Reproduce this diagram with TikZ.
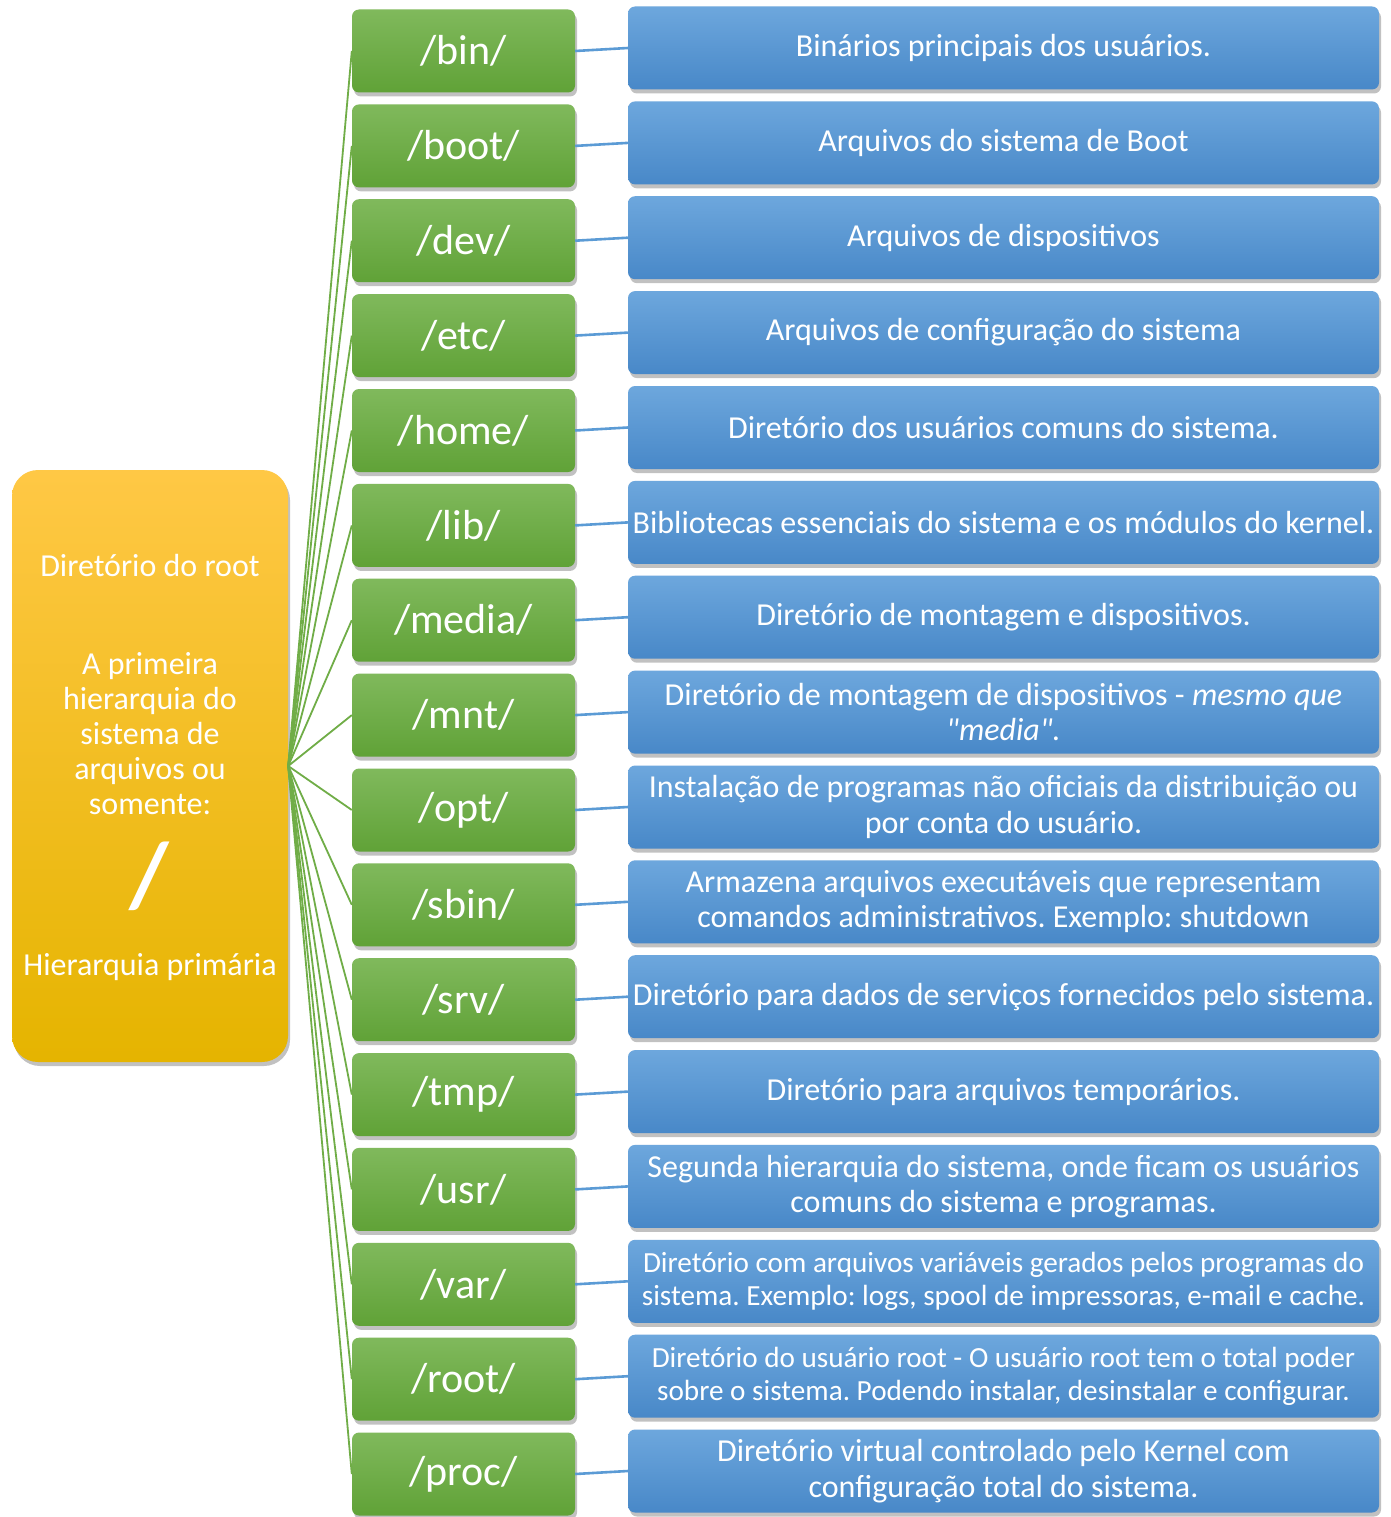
\documentclass[tikz,border=0pt]{standalone}
\usepackage{fontspec}
\setmainfont{Carlito}[Ligatures=TeXOff]
\usetikzlibrary{shadows}
\frenchspacing
\definecolor{gtop}{HTML}{80B95C}
\definecolor{gbot}{HTML}{60A237}
\definecolor{btop}{HTML}{6DA7DD}
\definecolor{bbot}{HTML}{4888C8}
\definecolor{rtop}{HTML}{FFC845}
\definecolor{rmid}{HTML}{FCC200}
\definecolor{rbot}{HTML}{E5B400}
\definecolor{gline}{HTML}{70AD47}
\definecolor{bline}{HTML}{5B9BD5}
\tikzset{
  shad/.style={drop shadow={shadow xshift=2pt,shadow yshift=-4pt,opacity=0.3,fill=black!80}},
  dirbox/.style={shad,rounded corners=7pt,minimum width=223pt,minimum height=83pt,inner sep=0pt,
    top color=gtop,bottom color=gbot,text=white,font=\fontsize{42}{46}\selectfont},
  descbox/.style={shad,rounded corners=7pt,minimum width=751pt,minimum height=83pt,inner sep=0pt,
    top color=btop,bottom color=bbot,text=white,align=center,font=\fontsize{32}{35.5}\selectfont},
  smalldesc/.style={font=\fontsize{29.2}{33}\selectfont},
  rootbox/.style={shad,rounded corners=26pt,minimum width=276pt,minimum height=592pt,inner sep=0pt,
    top color=rtop,middle color=rmid,bottom color=rbot},
  roottext/.style={text=white,align=center,font=\fontsize{32}{35}\selectfont,inner sep=0pt},
  rootline/.style={draw=gline,line width=1.8pt},
  descline/.style={draw=bline,line width=2.6pt},
}
\begin{document}
\begin{tikzpicture}[x=1pt,y=-1pt]
\useasboundingbox[fill=white] (0,0) rectangle (1391,1517);
% root
\node[rootbox] (root) at (150,766) {};
\node[roottext] (rt1) at (150,566) {Diretório do root};
\node[roottext] (rt2) at (150,734) {A primeira\\hierarquia do\\sistema de\\arquivos ou\\somente:};
\node[roottext,font=\fontsize{92}{92}\selectfont\bfseries] (rt3) at (149,876) {/};
\node[roottext] (rt4) at (150,967) {Hierarquia primária};
% directory boxes
\node[dirbox] (g1)  at (463.5,51)     {/bin/};
\node[dirbox] (g2)  at (463.5,145.9)  {/boot/};
\node[dirbox] (g3)  at (463.5,240.7)  {/dev/};
\node[dirbox] (g4)  at (463.5,335.6)  {/etc/};
\node[dirbox] (g5)  at (463.5,430.5)  {/home/};
\node[dirbox] (g6)  at (463.5,525.4)  {/lib/};
\node[dirbox] (g7)  at (463.5,620.2)  {/media/};
\node[dirbox] (g8)  at (463.5,715.1)  {/mnt/};
\node[dirbox] (g9)  at (463.5,810)    {/opt/};
\node[dirbox] (g10) at (463.5,904.8)  {/sbin/};
\node[dirbox] (g11) at (463.5,999.7)  {/srv/};
\node[dirbox] (g12) at (463.5,1094.6) {/tmp/};
\node[dirbox] (g13) at (463.5,1189.4) {/usr/};
\node[dirbox] (g14) at (463.5,1284.3) {/var/};
\node[dirbox] (g15) at (463.5,1379.2) {/root/};
\node[dirbox] (g16) at (463.5,1474)   {/proc/};
% description boxes
\node[descbox] (b1)  at (1003.5,48)     {Binários principais dos usuários.};
\node[descbox] (b2)  at (1003.5,142.9)  {Arquivos do sistema de Boot};
\node[descbox] (b3)  at (1003.5,237.7)  {Arquivos de dispositivos};
\node[descbox] (b4)  at (1003.5,332.6)  {Arquivos de configuração do sistema};
\node[descbox] (b5)  at (1003.5,427.5)  {Diretório dos usuários comuns do sistema.};
\node[descbox] (b6)  at (1003.5,522.4)  {Bibliotecas essenciais do sistema e os módulos do kernel.};
\node[descbox] (b7)  at (1003.5,617.2)  {Diretório de montagem e dispositivos.};
\node[descbox] (b8)  at (1003.5,712.1)  {Diretório de montagem de dispositivos - \textit{mesmo que}\\\textit{"media".}};
\node[descbox] (b9)  at (1003.5,807)    {Instalação de programas não oficiais da distribuição ou\\por conta do usuário.};
\node[descbox] (b10) at (1003.5,901.8)  {Armazena arquivos executáveis que representam\\comandos administrativos. Exemplo: shutdown};
\node[descbox] (b11) at (1003.5,996.7)  {Diretório para dados de serviços fornecidos pelo sistema.};
\node[descbox] (b12) at (1003.5,1091.6) {Diretório para arquivos temporários.};
\node[descbox] (b13) at (1003.5,1186.4) {Segunda hierarquia do sistema, onde ficam os usuários\\comuns do sistema e programas.};
\node[descbox,smalldesc] (b14) at (1003.5,1281.3) {Diretório com arquivos variáveis gerados pelos programas do\\sistema. Exemplo: logs, spool de impressoras, e-mail e cache.};
\node[descbox,smalldesc] (b15) at (1003.5,1376.2) {Diretório do usuário root - O usuário root tem o total poder\\sobre o sistema. Podendo instalar, desinstalar e configurar.};
\node[descbox] (b16) at (1003.5,1471)   {Diretório virtual controlado pelo Kernel com\\configuração total do sistema.};
% connectors
\foreach \i in {1,...,16}{
  \draw[rootline] (root.east) -- (g\i.west);
  \draw[descline] (g\i.east) -- (b\i.west);
}
\end{tikzpicture}
\end{document}
